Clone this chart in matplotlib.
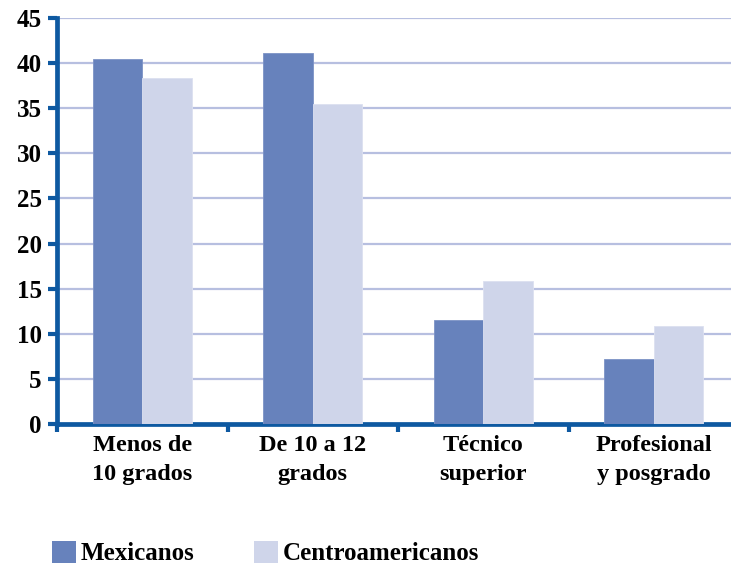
import matplotlib
matplotlib.use("Agg")
import matplotlib.pyplot as plt
from matplotlib.patches import Patch
import numpy as np

categories = ["Menos de\n10 grados", "De 10 a 12\ngrados", "Técnico\nsuperior", "Profesional\ny posgrado"]
series_names = ["Mexicanos", "Centroamericanos"]
mexicanos = [40.5, 41.1, 11.5, 7.2]
centroamericanos = [38.3, 35.5, 15.8, 10.9]
yticks = [0, 5, 10, 15, 20, 25, 30, 35, 40, 45]

c_mex = "#6782BC"
c_cen = "#CFD5EA"
c_axis = "#0E59A1"
c_grid = "#B7BFE0"

plt.rcParams['font.family'] = ['Liberation Serif', 'DejaVu Serif']
plt.rcParams['font.weight'] = 'bold'

fig = plt.figure(figsize=(7.31, 5.66), dpi=100)
W, H = 731, 566
left, right, bottom, top = 57, 739, 424, 18
ax = fig.add_axes([left / W, (H - bottom) / H, (right - left) / W, (bottom - top) / H])

x = np.arange(len(categories))
bw = 0.29
ax.bar(x - bw / 2, mexicanos, width=bw, color=c_mex, edgecolor="#7D93C6", linewidth=0.6, zorder=3)
ax.bar(x + bw / 2, centroamericanos, width=bw, color=c_cen, edgecolor="#DCE0F0", linewidth=0.6, zorder=3)

ax.set_xlim(-0.5, 3.5)
ax.set_ylim(0, 45)
ax.set_yticks(yticks)
ax.set_yticklabels([str(v) for v in yticks], fontsize=18, fontweight='bold')
ax.yaxis.grid(True, color=c_grid, linewidth=1.6, zorder=0)
ax.set_axisbelow(True)

ax.set_xticks(np.arange(-0.5, 3.6, 1.0))
ax.set_xticklabels([])
ax.set_xticks(x, minor=True)
ax.set_xticklabels(categories, minor=True, fontsize=17.5, fontweight='bold', linespacing=1.5)
ax.tick_params(axis='x', which='minor', length=0, pad=8)
ax.tick_params(axis='x', which='major', length=5.5, width=3, color=c_axis, direction='out')
ax.tick_params(axis='y', length=6.5, width=3, color=c_axis, direction='out', pad=4.5)

for s in ['top', 'right']:
    ax.spines[s].set_visible(False)
for s in ['left', 'bottom']:
    ax.spines[s].set_color(c_axis)
    ax.spines[s].set_linewidth(3.4)
ax.spines['left'].set_capstyle('projecting')

handles = [Patch(facecolor=c_mex, edgecolor='none'), Patch(facecolor=c_cen, edgecolor='none')]
fig.legend(handles, series_names, loc='center left', bbox_to_anchor=(52 / W, 1 - 553 / H), ncol=2,
           frameon=False, prop={'family': 'Liberation Serif', 'weight': 'bold', 'size': 18},
           handlelength=0.96, handleheight=0.96, handletextpad=0.2, columnspacing=2.36,
           borderaxespad=0, borderpad=0)

fig.savefig("out.png", dpi=100)
